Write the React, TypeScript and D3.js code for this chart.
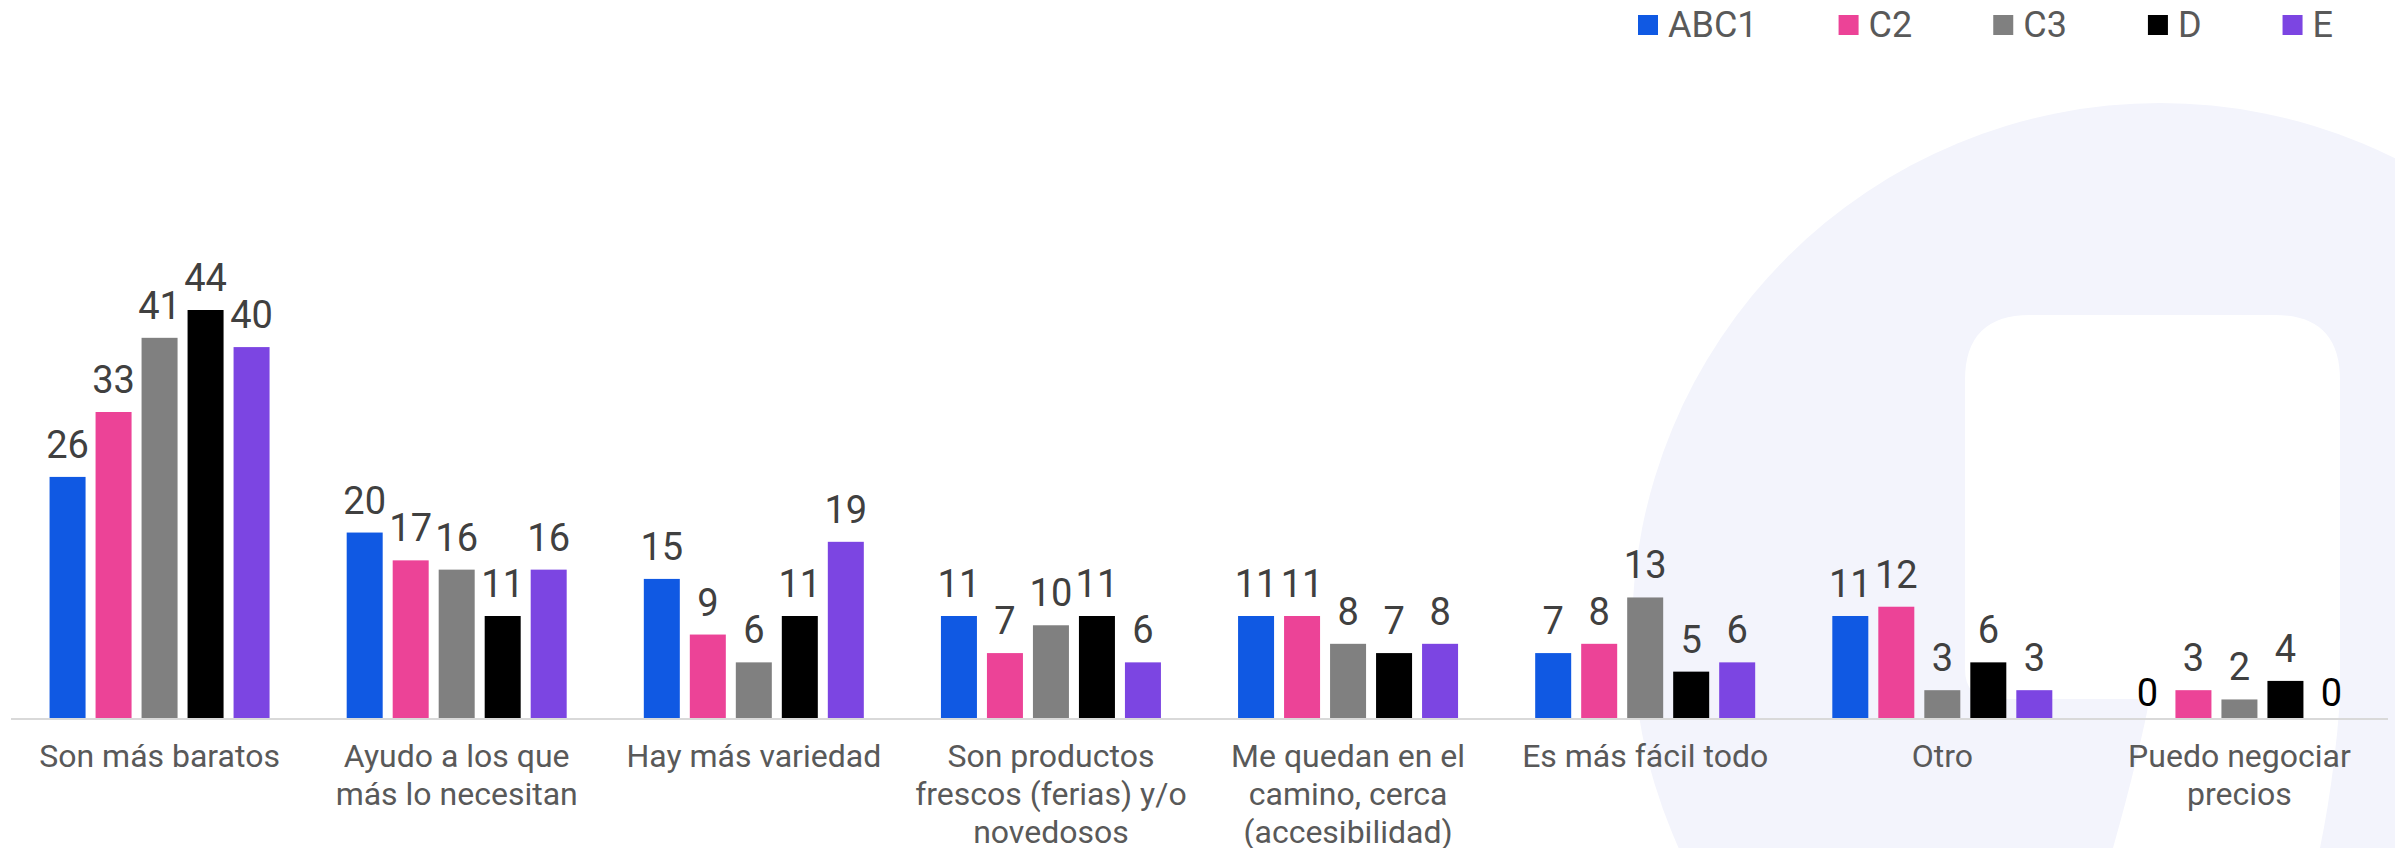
import React, { useEffect, useRef } from "react";
import * as d3 from "d3";

const categories = [
  "Son más baratos",
  "Ayudo a los que\nmás lo necesitan",
  "Hay más variedad",
  "Son productos\nfrescos (ferias) y/o\nnovedosos",
  "Me quedan en el\ncamino, cerca\n(accesibilidad)",
  "Es más fácil todo",
  "Otro",
  "Puedo negociar\nprecios",
];
const seriesNames = ["ABC1", "C2", "C3", "D", "E"];
const seriesColors = ["#1059e3", "#ec4397", "#808080", "#000000", "#7c45e2"];
const abc1 = [26, 20, 15, 11, 11, 7, 11, 0];
const c2 = [33, 17, 9, 7, 11, 8, 12, 3];
const c3 = [41, 16, 6, 10, 8, 13, 3, 2];
const dSeries = [44, 11, 11, 11, 7, 5, 6, 4];
const eSeries = [40, 16, 19, 6, 8, 6, 3, 0];
const seriesValues = [abc1, c2, c3, dSeries, eSeries];

const W = 2395;
const H = 848;

export default function App() {
  const ref = useRef<SVGSVGElement>(null);

  useEffect(() => {
    document.body.style.margin = "0";
    const svg = d3.select(ref.current);
    svg.selectAll("*").remove();

    // background
    svg.append("rect").attr("width", W).attr("height", H).attr("fill", "#ffffff");
    svg.append("circle").attr("cx", 2160).attr("cy", 631).attr("r", 528).attr("fill", "#f3f4fc");
    svg
      .append("path")
      .attr(
        "d",
        "M1965,380 Q1965,315 2030,315 L2275,315 Q2340,315 2340,380 L2340,700 Q2334,780 2320,848 L2113,848 Q2135,770 2147,712 Q2150,699 2135,699 L1995,699 Q1965,699 1965,669 Z"
      )
      .attr("fill", "#ffffff");

    const baseY = 718;
    const y = d3
      .scaleLinear()
      .domain([0, d3.max(seriesValues.flat()) as number])
      .range([baseY, 310]);
    const x0 = d3.scaleBand().domain(categories).range([11, 2388]).paddingInner(0).paddingOuter(0);
    const x1 = d3.scaleBand().domain(seriesNames).range([0, 220]).paddingInner(0.2174).paddingOuter(0);

    // axis line
    svg
      .append("line")
      .attr("x1", 11)
      .attr("x2", 2388)
      .attr("y1", baseY + 1)
      .attr("y2", baseY + 1)
      .attr("stroke", "#d9d9d9")
      .attr("stroke-width", 2);

    const g = svg.append("g");
    seriesNames.forEach((s, si) => {
      categories.forEach((c, ci) => {
        const v = seriesValues[si][ci];
        const bx = (x0(c) as number) + x0.bandwidth() / 2 - 110 + (x1(s) as number);
        if (v > 0) {
          g.append("rect")
            .attr("x", bx)
            .attr("y", y(v))
            .attr("width", x1.bandwidth())
            .attr("height", baseY - y(v))
            .attr("fill", seriesColors[si]);
        }
        g.append("text")
          .attr("x", bx + x1.bandwidth() / 2)
          .attr("y", v === 0 ? baseY - 12 : y(v) - 19)
          .attr("text-anchor", "middle")
          .attr("font-family", "Roboto")
          .attr("font-size", 38)
          .attr("fill", v === 0 ? "#000000" : "#404040")
          .text(String(v));
      });
    });

    // category labels
    categories.forEach((c) => {
      const cx = (x0(c) as number) + x0.bandwidth() / 2;
      const t = svg
        .append("text")
        .attr("text-anchor", "middle")
        .attr("font-family", "Roboto")
        .attr("font-size", 32)
        .attr("fill", "#595959");
      c.split("\n").forEach((line, li) => {
        t.append("tspan").attr("x", cx).attr("y", 767 + li * 38).text(line);
      });
    });

    // legend
    let lx = 1638;
    seriesNames.forEach((s, si) => {
      svg.append("rect").attr("x", lx).attr("y", 15).attr("width", 20).attr("height", 20).attr("fill", seriesColors[si]);
      const t = svg
        .append("text")
        .attr("x", lx + 30)
        .attr("y", 37)
        .attr("font-family", "Roboto")
        .attr("font-size", 36)
        .attr("fill", "#595959")
        .text(s);
      const w = (t.node() as SVGTextElement).getComputedTextLength();
      lx = lx + 30 + w + 81;
    });
  }, []);

  return <svg ref={ref} width={W} height={H} style={{ display: "block" }} />;
}
